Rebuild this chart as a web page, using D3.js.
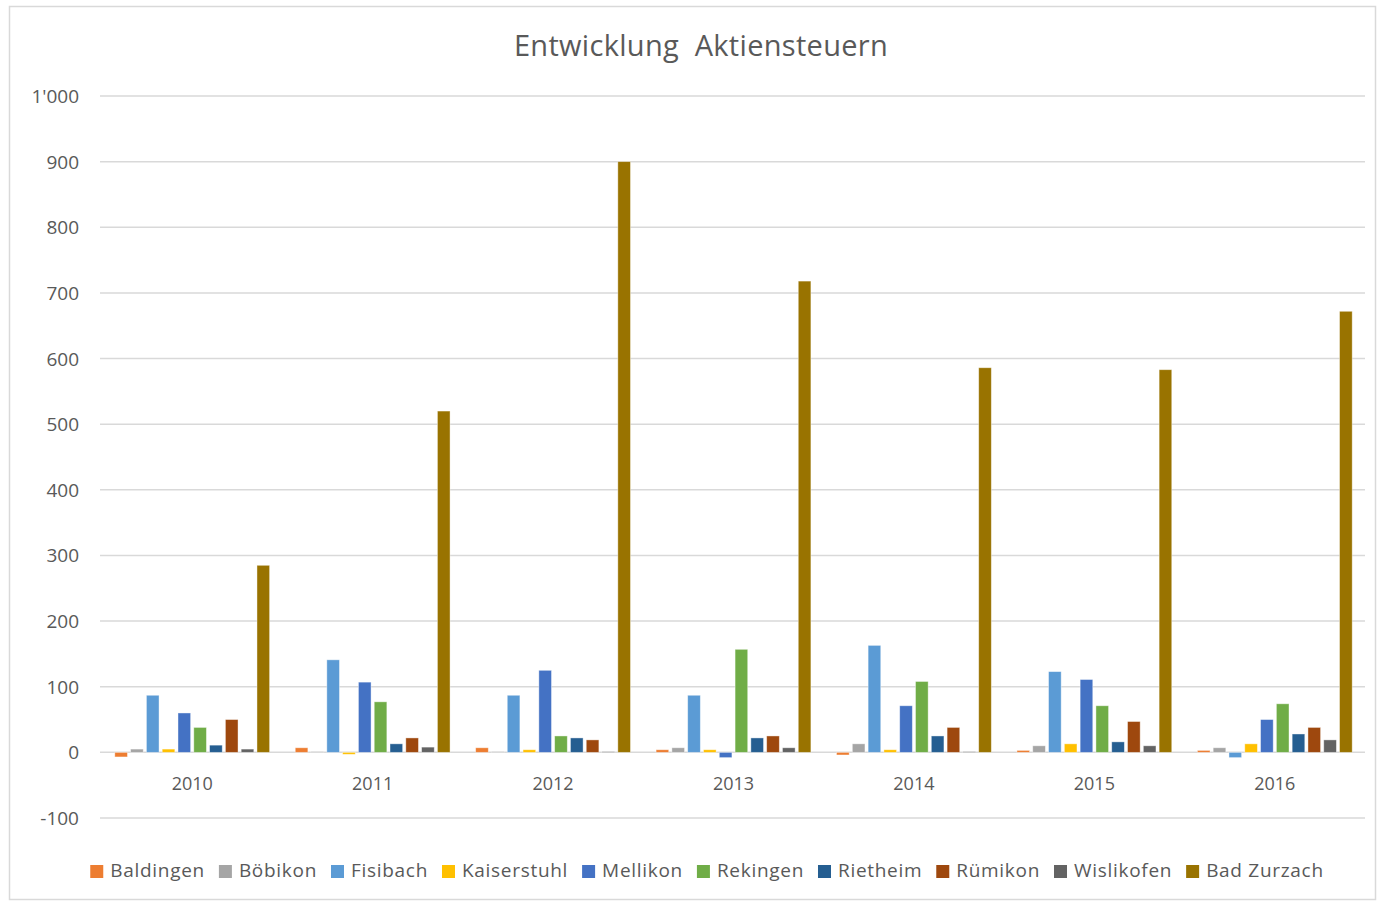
<!DOCTYPE html>
<html lang="de">
<head>
<meta charset="UTF-8" />
<title>Entwicklung Aktiensteuern</title>
<script src="https://cdn.jsdelivr.net/npm/d3@7"></script>
<style>
  body { margin: 0; background: #fff; }
  svg { display: block; font-family: "Open Sans", "Liberation Sans", sans-serif; }
</style>
</head>
<body>
<script>
const years = ["2010", "2011", "2012", "2013", "2014", "2015", "2016"];
const towns = ["Baldingen", "Böbikon", "Fisibach", "Kaiserstuhl", "Mellikon", "Rekingen", "Rietheim", "Rümikon", "Wislikofen", "Bad Zurzach"];
const colors = ["#ED7D31", "#A5A5A5", "#5B9BD5", "#FFC000", "#4472C4", "#70AD47", "#255E91", "#9E480E", "#636363", "#997300"];

// values per town, one entry per year
const baldingen   = [-7, 7, 7, 4, -4, 3, 3];
const boebikon    = [5, 1, 1, 7, 13, 10, 7];
const fisibach    = [87, 141, 87, 87, 163, 123, -8];
const kaiserstuhl = [5, -3, 4, 4, 4, 13, 13];
const mellikon    = [60, 107, 125, -8, 71, 111, 50];
const rekingen    = [38, 77, 25, 157, 108, 71, 74];
const rietheim    = [11, 13, 22, 22, 25, 16, 28];
const ruemikon    = [50, 22, 19, 25, 38, 47, 38];
const wislikofen  = [5, 8, 1, 7, 1, 10, 19];
const badZurzach  = [285, 520, 900, 718, 586, 583, 672];
const series = [baldingen, boebikon, fisibach, kaiserstuhl, mellikon, rekingen, rietheim, ruemikon, wislikofen, badZurzach];

const yTicks = [-100, 0, 100, 200, 300, 400, 500, 600, 700, 800, 900, 1000];

const W = 1378, H = 902;
const textColor = "#595959";
const gridColor = "#d9d9d9";

const svg = d3.select("body").append("svg").attr("width", W).attr("height", H);

svg.append("rect")
  .attr("x", 9.5).attr("y", 6.5)
  .attr("width", 1366).attr("height", 893)
  .attr("fill", "#fff").attr("stroke", gridColor).attr("stroke-width", 1.5);

svg.append("text")
  .attr("x", 701).attr("y", 56)
  .attr("text-anchor", "middle")
  .attr("fill", textColor)
  .style("font-size", "29px")
  .style("white-space", "pre")
  .style("letter-spacing", "0.3px")
  .text("Entwicklung  Aktiensteuern");

const y = d3.scaleLinear().domain([-100, 1000]).range([818, 96]);
const x0 = d3.scaleBand().domain(years).range([102, 1365]).paddingInner(0.142).paddingOuter(0.071);
const x1 = d3.scaleBand().domain(towns).range([0, x0.bandwidth()]).paddingInner(0.2);

// grid lines
svg.append("g")
  .selectAll("line")
  .data(yTicks)
  .join("line")
  .attr("x1", 100).attr("x2", 1365)
  .attr("y1", d => y(d)).attr("y2", d => y(d))
  .attr("stroke", gridColor).attr("stroke-width", 1.5);

// y labels
const fmt = d => String(d).replace(/\B(?=(\d{3})+(?!\d))/g, "'");
svg.append("g")
  .selectAll("text")
  .data(yTicks)
  .join("text")
  .attr("x", 79).attr("y", d => y(d) + 7)
  .attr("text-anchor", "end")
  .attr("fill", textColor)
  .style("font-size", "19px")
  .text(fmt);

// bars
const groups = svg.append("g")
  .selectAll("g")
  .data(years)
  .join("g")
  .attr("transform", d => `translate(${x0(d)},0)`);

groups.selectAll("rect")
  .data((yr, i) => towns.map((t, j) => ({ town: t, value: series[j][i], color: colors[j] })))
  .join("rect")
  .attr("x", d => x1(d.town))
  .attr("width", x1.bandwidth())
  .attr("y", d => y(Math.max(0, d.value)))
  .attr("height", d => Math.abs(y(d.value) - y(0)))
  .attr("fill", d => d.color)
  .attr("stroke", "#fff")
  .attr("stroke-opacity", 0.5)
  .attr("stroke-width", 0.8);

// year labels
svg.append("g")
  .selectAll("text")
  .data(years)
  .join("text")
  .attr("x", d => x0(d) + x0.bandwidth() / 2)
  .attr("y", 790)
  .attr("text-anchor", "middle")
  .attr("fill", textColor)
  .style("font-size", "18px")
  .text(d => d);

// legend
const legend = svg.append("g");
const items = legend.selectAll("g")
  .data(towns)
  .join("g");
items.append("rect")
  .attr("width", 13).attr("height", 13)
  .attr("y", -12)
  .attr("fill", (d, i) => colors[i]);
items.append("text")
  .attr("x", 20)
  .attr("fill", textColor)
  .style("font-size", "19px")
  .style("letter-spacing", "0.7px")
  .text(d => d);

let cx = 0;
items.each(function () {
  const w = this.getBBox().width;
  d3.select(this).attr("transform", `translate(${cx},0)`);
  cx += w + 14;
});
const total = cx - 14;
legend.attr("transform", `translate(${707 - total / 2},877)`);
</script>
</body>
</html>
